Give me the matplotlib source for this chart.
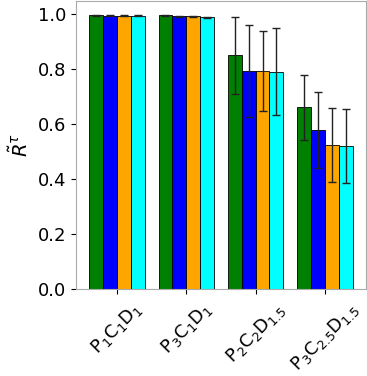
import numpy as np
import matplotlib
matplotlib.use("Agg")
import matplotlib.pyplot as plt

# Data
groups = [r"$\mathregular{P_1C_1D_1}$", r"$\mathregular{P_3C_1D_1}$",
          r"$\mathregular{P_2C_2D_{1.5}}$", r"$\mathregular{P_3C_{2.5}D_{1.5}}$"]
colors = ["green", "blue", "orange", "cyan"]
means = [
    [0.995, 0.994, 0.994, 0.994],
    [0.995, 0.992, 0.992, 0.989],
    [0.850, 0.794, 0.793, 0.790],
    [0.661, 0.579, 0.524, 0.521],
]
errs = [
    [0.002, 0.002, 0.002, 0.002],
    [0.002, 0.002, 0.002, 0.002],
    [0.140, 0.168, 0.147, 0.158],
    [0.119, 0.139, 0.135, 0.134],
]

means = np.array(means)
errs = np.array(errs)

fig = plt.figure(figsize=(3.67, 3.76), dpi=100)
ax = fig.add_axes([0.207, 0.231, 0.79, 0.766])

x = np.arange(len(groups))
width = 0.2
for i, c in enumerate(colors):
    ax.bar(x + (i - 1.5) * width, means[:, i], width, yerr=errs[:, i],
           color=c, edgecolor="black", linewidth=0.6,
           error_kw=dict(ecolor="#222222", elinewidth=1.0, capsize=3, capthick=1.0))

ax.set_ylim(0, 1.047)
ax.set_xticks(x)
ax.set_xticklabels(groups, rotation=45, fontsize=13)
ax.tick_params(axis="y", labelsize=13)
ax.set_ylabel(r"$\tilde{R}^{\tau}$", fontsize=14)
for s in ax.spines.values():
    s.set_color("#aaaaaa")

plt.savefig("out.png", dpi=100)
plt.close()
